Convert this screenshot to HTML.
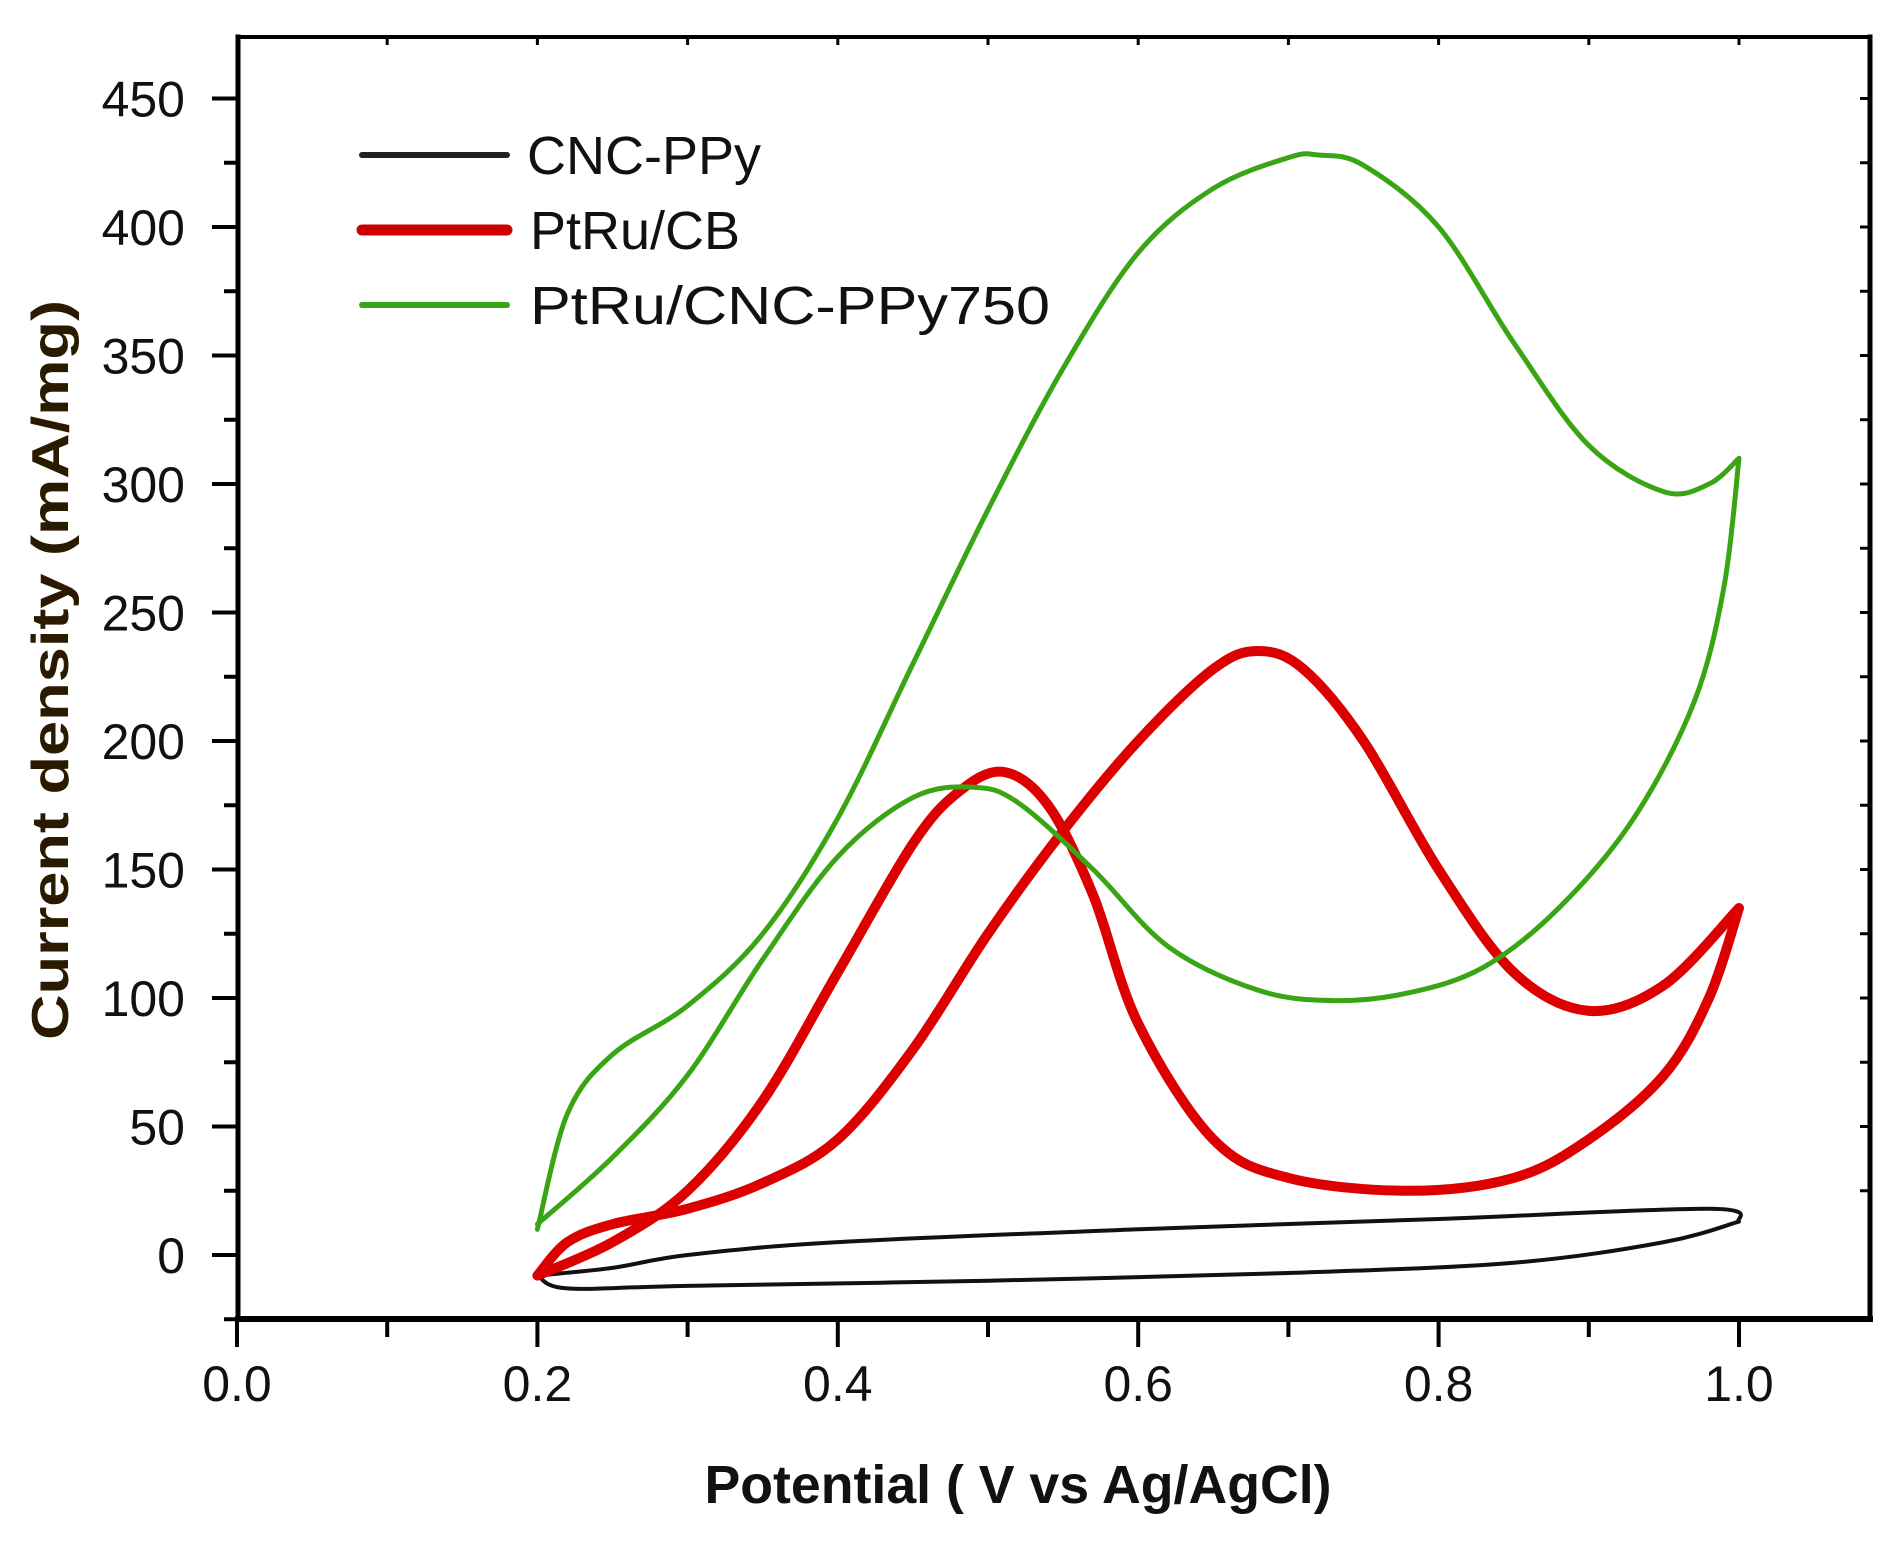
<!DOCTYPE html>
<html><head><meta charset="utf-8"><style>
html,body{margin:0;padding:0;background:#fff}
svg{display:block}
text{font-family:"Liberation Sans",sans-serif;fill:#111}
</style></head><body>
<svg id="s" width="1903" height="1550" viewBox="0 0 1903 1550" xmlns="http://www.w3.org/2000/svg">
<rect width="1903" height="1550" fill="#fff"/>
<g stroke="#000" fill="none" stroke-linecap="square">
<line x1="238" y1="37" x2="1870" y2="37" stroke-width="4"/>
<line x1="1870" y1="37" x2="1870" y2="1319" stroke-width="5"/>
<line x1="238" y1="37" x2="238" y2="1319" stroke-width="5"/>
<line x1="238" y1="1319" x2="1870" y2="1319" stroke-width="6"/>
</g>
<g id="ticks" stroke="#000" stroke-width="4"></g>
<g id="labels" font-size="50" text-anchor="middle"></g>
<g fill="none" stroke-linejoin="round" stroke-linecap="round">
<path id="blk" stroke="#111" stroke-width="4"/>
<path id="red" stroke="#dd0000" stroke-width="10"/>
<path id="grn" stroke="#3aa514" stroke-width="5"/>
</g>
<g stroke-linecap="round">
<line x1="362" y1="155" x2="507" y2="155" stroke="#222" stroke-width="6"/>
<line x1="362" y1="230" x2="507" y2="230" stroke="#cc0000" stroke-width="11"/>
<line x1="362" y1="305" x2="507" y2="305" stroke="#3aa514" stroke-width="6"/>
</g>
<g font-size="54">
<text x="527" y="174">CNC-PPy</text>
<text x="530" y="249">PtRu/CB</text>
<text x="530" y="324" textLength="520" lengthAdjust="spacingAndGlyphs">PtRu/CNC-PPy750</text>
</g>
<text x="1018" y="1503" font-size="54" font-weight="bold" text-anchor="middle" textLength="627" lengthAdjust="spacingAndGlyphs">Potential ( V vs Ag/AgCl)</text>
<text transform="translate(68,670) rotate(-90)" font-size="52" font-weight="bold" text-anchor="middle" textLength="740" lengthAdjust="spacingAndGlyphs" style="fill:#2a1a00">Current density (mA/mg)</text>
</svg>
<script>
var X=function(v){return 237+v*1502},Y=function(i){return 1255-i*2.57};
var NS="http://www.w3.org/2000/svg";
function el(p,t,a,txt){var e=document.createElementNS(NS,t);for(var k in a)e.setAttribute(k,a[k]);if(txt)e.textContent=txt;document.getElementById(p).appendChild(e);}
for(var i=0;i<=450;i+=25){var y=Y(i);var maj=i%50==0;el("ticks","line",{x1:maj?212:224,x2:238,y1:y,y2:y});
 if(maj)el("labels","text",{x:185,y:y+18,"text-anchor":"end"},""+i);}
el("ticks","line",{x1:224,x2:238,y1:Y(-25),y2:Y(-25)});
for(var k=0;k<=10;k++){var x=X(k/10);var maj=k%2==0;el("ticks","line",{x1:x,x2:x,y1:1319,y2:maj?1347:1337});
 el("ticks","line",{x1:x,x2:x,y1:37,y2:45,"stroke-width":3});
 if(maj)el("labels","text",{x:x,y:1401},(k/10).toFixed(1));}
for(var i=25;i<=450;i+=25){el("ticks","line",{x1:1860,x2:1870,y1:Y(i),y2:Y(i),"stroke-width":3});}
function path(pts){var p=pts.map(function(a){return[X(a[0]),Y(a[1])]});var d="M"+p[0][0]+","+p[0][1];
 for(var i=0;i<p.length-1;i++){var p0=p[Math.max(i-1,0)],p1=p[i],p2=p[i+1],p3=p[Math.min(i+2,p.length-1)];
 d+="C"+(p1[0]+(p2[0]-p0[0])/6)+","+(p1[1]+(p2[1]-p0[1])/6)+" "+(p2[0]-(p3[0]-p1[0])/6)+","+(p2[1]-(p3[1]-p1[1])/6)+" "+p2[0]+","+p2[1];}
 return d;}
var g1=[[0.2,10],[0.22,55],[0.25,78],[0.3,97],[0.35,125],[0.4,170],[0.45,230],[0.5,290],[0.55,345],[0.6,390],[0.65,415],[0.7,427],[0.72,428],[0.75,424],[0.8,400],[0.85,355],[0.9,315],[0.95,297],[0.98,300],[1.0,310]];
var g2=[[1.0,310],[0.99,260],[0.97,215],[0.93,170],[0.88,135],[0.83,112],[0.78,102],[0.73,99],[0.68,103],[0.62,120],[0.57,150],[0.52,176],[0.49,182],[0.45,178],[0.4,155],[0.35,115],[0.3,70],[0.25,38],[0.2,12]];
var r1=[[0.2,-8],[0.22,5],[0.25,12],[0.3,18],[0.35,28],[0.4,45],[0.45,80],[0.5,125],[0.55,165],[0.6,200],[0.65,228],[0.68,235],[0.71,228],[0.75,200],[0.8,150],[0.85,110],[0.9,95],[0.95,105],[1.0,135]];
var r2=[[1.0,135],[0.98,100],[0.95,70],[0.9,45],[0.85,30],[0.78,25],[0.7,30],[0.65,45],[0.6,90],[0.57,140],[0.54,175],[0.51,188],[0.48,180],[0.45,160],[0.4,110],[0.35,60],[0.3,25],[0.25,5],[0.2,-8]];
var b1=[[0.2,-8],[0.25,-5],[0.3,0],[0.4,5],[0.6,10],[0.8,14],[0.98,18],[1.0,13]];
var b2=[[1.0,13],[0.95,5],[0.85,-3],[0.7,-7],[0.5,-10],[0.3,-12],[0.22,-13],[0.2,-8]];
document.getElementById("grn").setAttribute("d",path(g1)+path(g2).replace("M","L"));
document.getElementById("red").setAttribute("d",path(r1)+path(r2).replace("M","L"));
document.getElementById("blk").setAttribute("d",path(b1)+path(b2).replace("M","L"));
</script>
</body></html>
